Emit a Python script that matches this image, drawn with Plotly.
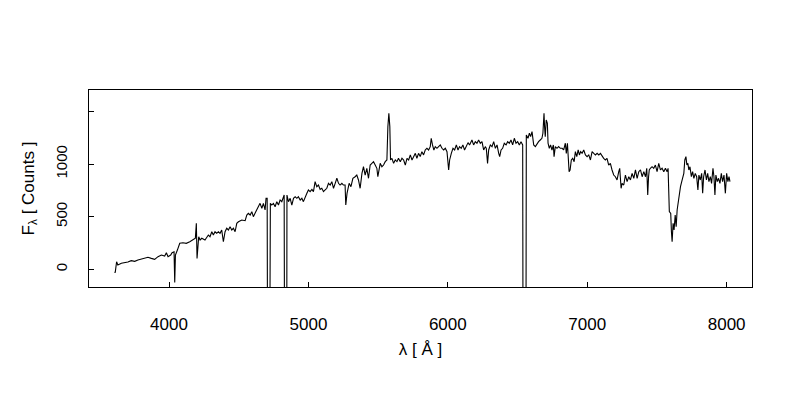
import plotly.graph_objects as go

wavelength = [
    3610, 3614, 3624, 3633, 3658, 3682, 3705, 3729, 3754, 3777, 3801, 3826, 3849, 3873, 3897,
    3921, 3945, 3969, 3981, 3993, 4012, 4022, 4036, 4041, 4046, 4060, 4077, 4100, 4124, 4149,
    4172, 4189, 4196, 4201, 4213, 4223, 4235, 4258, 4282, 4294, 4307, 4318, 4330, 4342, 4354,
    4366, 4378, 4390, 4402, 4414, 4426, 4438, 4450, 4462, 4474, 4486, 4498, 4522, 4546, 4558,
    4569, 4582, 4594, 4605, 4617, 4630, 4641, 4653, 4666, 4677, 4689, 4696, 4704, 4706, 4724,
    4727, 4737, 4749, 4761, 4773, 4785, 4797, 4809, 4816, 4826, 4828, 4845, 4846, 4852, 4857,
    4869, 4881, 4893, 4905, 4917, 4928, 4941, 4953, 4964, 4976, 4989, 5000, 5012, 5025, 5036,
    5048, 5060, 5072, 5084, 5096, 5108, 5120, 5132, 5144, 5156, 5168, 5180, 5192, 5204, 5216,
    5227, 5240, 5251, 5263, 5268, 5277, 5292, 5305, 5319, 5335, 5347, 5359, 5371, 5384, 5395,
    5407, 5419, 5431, 5443, 5455, 5467, 5479, 5491, 5498, 5507, 5515, 5527, 5539, 5551, 5563,
    5570, 5577, 5584, 5589, 5599, 5611, 5623, 5635, 5646, 5659, 5671, 5683, 5695, 5707, 5719,
    5731, 5743, 5755, 5767, 5778, 5790, 5802, 5814, 5826, 5838, 5850, 5862, 5874, 5881, 5890,
    5900, 5910, 5922, 5934, 5946, 5958, 5970, 5982, 5994, 6006, 6013, 6025, 6037, 6049, 6061,
    6073, 6084, 6096, 6108, 6120, 6132, 6145, 6156, 6161, 6173, 6185, 6197, 6209, 6221, 6233,
    6245, 6257, 6269, 6276, 6285, 6293, 6305, 6317, 6329, 6341, 6353, 6365, 6372, 6382, 6393,
    6405, 6418, 6429, 6441, 6453, 6465, 6477, 6489, 6501, 6513, 6525, 6537, 6539, 6561, 6563,
    6575, 6585, 6594, 6604, 6616, 6628, 6640, 6651, 6663, 6675, 6682, 6690, 6694, 6699, 6706,
    6714, 6719, 6728, 6737, 6747, 6757, 6762, 6771, 6783, 6795, 6807, 6820, 6831, 6843, 6850,
    6858, 6865, 6870, 6877, 6886, 6896, 6906, 6915, 6925, 6935, 6944, 6953, 6963, 6975, 6987,
    6999, 7011, 7023, 7035, 7047, 7059, 7071, 7083, 7095, 7107, 7118, 7130, 7142, 7154, 7166,
    7178, 7190, 7202, 7214, 7226, 7233, 7243, 7250, 7262, 7274, 7286, 7298, 7310, 7322, 7334,
    7346, 7358, 7370, 7382, 7394, 7406, 7418, 7427, 7434, 7440, 7445, 7453, 7465, 7477, 7489,
    7501, 7513, 7525, 7537, 7549, 7561, 7573, 7580, 7589, 7599, 7604, 7609, 7616, 7623, 7631,
    7638, 7645, 7652, 7660, 7669, 7681, 7693, 7700, 7708, 7715, 7722, 7729, 7737, 7747, 7756,
    7765, 7775, 7785, 7794, 7801, 7811, 7821, 7828, 7835, 7845, 7855, 7864, 7873, 7883, 7892,
    7902, 7909, 7916, 7923, 7933, 7942, 7952, 7962, 7971, 7981, 7991, 8000, 8009, 8017, 8024,
]

flux = [
    -23, -32, 72, 41, 57, 63, 69, 82, 76, 88, 95, 101, 114, 104, 95,
    120, 136, 126, 158, 120, 136, 158, 167, -125, 136, 183, 247, 253, 247, 262,
    279, 295, 437, 104, 310, 279, 295, 279, 326, 310, 357, 326, 357, 342, 357,
    342, 374, 262, 357, 390, 374, 405, 374, 390, 357, 437, 452, 469, 462, 516,
    532, 516, 548, 500, 532, 564, 595, 627, 580, 627, 564, 675, 675, -400, -400,
    627, 611, 627, 595, 643, 611, 659, 643, 675, 706, -400, -400, 706, 659, 643,
    675, 611, 675, 690, 675, 690, 659, 675, 643, 690, 722, 754, 738, 760, 738,
    833, 785, 801, 760, 770, 738, 754, 770, 817, 801, 833, 770, 817, 865, 817,
    801, 817, 801, 801, 611, 722, 817, 785, 865, 880, 896, 849, 770, 912, 975,
    896, 960, 865, 991, 1007, 1023, 991, 960, 880, 950, 1007, 975, 991, 1023, 1039,
    1356, 1483, 1356, 1039, 1055, 1007, 1039, 1023, 1055, 1023, 1055, 1039, 991, 1055, 1039,
    1087, 1039, 1071, 1102, 1055, 1102, 1071, 1118, 1087, 1134, 1150, 1134, 1166, 1245, 1182,
    1134, 1166, 1150, 1166, 1182, 1150, 1134, 1150, 1118, 944, 1039, 1102, 1150, 1134, 1182,
    1134, 1166, 1150, 1182, 1134, 1166, 1204, 1182, 1198, 1229, 1182, 1213, 1198, 1229, 1198,
    1213, 1134, 1166, 1150, 1007, 1134, 1182, 1166, 1213, 1150, 1182, 1102, 1071, 1134, 1150,
    1198, 1182, 1213, 1198, 1229, 1182, 1245, 1198, 1213, 1182, 1213, 1182, -400, -400, 1277,
    1245, 1293, 1261, 1308, 1182, 1166, 1198, 1213, 1229, 1245, 1293, 1483, 1356, 1261, 1419,
    1388, 1198, 1150, 1182, 1134, 1182, 1071, 1166, 1150, 1166, 1150, 1150, 1134, 1198, 1102,
    1198, 1087, 928, 944, 1039, 1055, 1023, 1118, 1071, 1134, 1087, 1118, 1102, 1134, 1087,
    1071, 1087, 1039, 1118, 1102, 1087, 1102, 1087, 1102, 1071, 1055, 1039, 1055, 991, 1007,
    944, 896, 880, 849, 928, 960, 770, 817, 801, 896, 833, 880, 849, 912, 865,
    944, 865, 928, 944, 880, 928, 880, 960, 706, 880, 944, 960, 975, 960, 991,
    928, 1007, 944, 960, 928, 960, 928, 960, 548, 532, 357, 262, 437, 374, 516,
    405, 564, 627, 738, 785, 849, 912, 1039, 1071, 991, 1007, 944, 975, 880, 928,
    865, 912, 880, 754, 896, 849, 912, 722, 880, 944, 849, 912, 833, 880, 817,
    960, 880, 706, 896, 833, 865, 817, 912, 833, 896, 722, 912, 833, 880, 833,
]

x_ticks = [4000, 5000, 6000, 7000, 8000]
y_ticks = [0, 500, 1000]

font_family = "Liberation Sans, Arial, sans-serif"

fig = go.Figure()
fig.add_trace(go.Scatter(
    x=wavelength, y=flux, mode="lines",
    line=dict(color="black", width=1.1),
    showlegend=False, hoverinfo="skip",
))

fig.update_layout(
    width=800, height=400,
    margin=dict(l=89, r=48, t=90, b=113),
    paper_bgcolor="white", plot_bgcolor="white",
    font=dict(family=font_family, color="black", size=17),
    xaxis=dict(
        range=[3426, 8182], tickvals=x_ticks, ticktext=[str(v) for v in x_ticks],
        ticks="inside", ticklen=5, tickcolor="black", tickwidth=1,
        showline=True, linecolor="black", linewidth=1, mirror=True,
        showgrid=False, zeroline=False,
        tickfont=dict(size=17), ticklabelstandoff=22,
        title=dict(text="λ [ Å ]", font=dict(size=17), standoff=9),
    ),
    yaxis=dict(
        range=[-168, 1704], tickvals=y_ticks, ticktext=[str(v) for v in y_ticks],
        ticks="inside", ticklen=5, tickcolor="black", tickwidth=1,
        minor=dict(ticks="inside", ticklen=5, tick0=0, dtick=500,
                   tickcolor="black", tickwidth=1, showgrid=False),
        showline=True, linecolor="black", linewidth=1, mirror=True,
        showgrid=False, zeroline=False,
        tickangle=-90, tickfont=dict(size=15), ticklabelstandoff=15,
        title=dict(text="F<sub>λ</sub> [ Counts ]", font=dict(size=17), standoff=14),
    ),
)

fig.write_html("out.html", config={"displayModeBar": False},
               post_script="document.body.style.margin='0';")
